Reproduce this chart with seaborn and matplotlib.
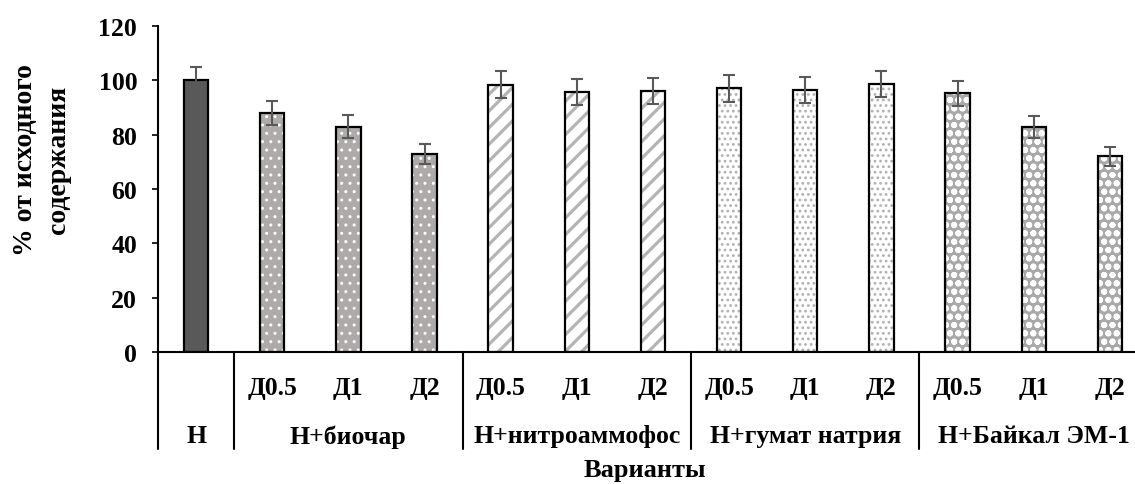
import matplotlib
matplotlib.use("Agg")
import matplotlib.pyplot as plt
from matplotlib.patches import Rectangle
import seaborn as sns
import pandas as pd

# ---- data ----
groups = ["Н", "Н+биочар", "Н+нитроаммофос", "Н+гумат натрия", "Н+Байкал ЭМ-1"]
doses = ["Д0.5", "Д1", "Д2"]
control_value = [100.0]
control_err = [5.0]
biochar = [88.0, 83.0, 73.0]
biochar_err = [4.4, 4.1, 3.7]
nitroammofos = [98.4, 95.8, 96.2]
nitroammofos_err = [4.9, 4.8, 4.8]
gumat = [97.1, 96.5, 98.7]
gumat_err = [4.9, 4.9, 4.8]
baikal = [95.2, 82.7, 72.0]
baikal_err = [4.6, 4.1, 3.5]

values = control_value + biochar + nitroammofos + gumat + baikal
errors = control_err + biochar_err + nitroammofos_err + gumat_err + baikal_err
group_of_bar = [groups[0]] + [g for g in groups[1:] for _ in doses]
dose_of_bar = [""] + doses * 4
keys = [f"{g} {d}".strip() for g, d in zip(group_of_bar, dose_of_bar)]

df = pd.DataFrame({"key": keys, "value": values, "err": errors, "group": group_of_bar})

# fill colour, hatch pattern, hatch colour, hatch width per group
styles = {
    "Н": ("#595959", "", "#595959", 1.0),
    "Н+биочар": ("#AEAAAA", "..", "#FFFFFF", 1.0),
    "Н+нитроаммофос": ("#FFFFFF", "//", "#B4B4B4", 2.3),
    "Н+гумат натрия": ("#FFFFFF", "...", "#B0B0B0", 1.2),
    "Н+Байкал ЭМ-1": ("#A9A9A9", "oo", "#FFFFFF", 2.0),
}

FS = 18.5

sns.set_theme(style="white")
plt.rcParams["font.family"] = ["Liberation Serif", "DejaVu Serif"]
plt.rcParams["font.weight"] = "bold"
plt.rcParams["hatch.linewidth"] = 1.5

fig = plt.figure(figsize=(11.35, 4.85), dpi=100)
ax = fig.add_axes([158 / 1135, 0.2722, 977 / 1135, 0.6721])

sns.barplot(data=df, x="key", y="value", order=keys, width=0.32,
            color="#595959", errorbar=None, ax=ax, zorder=2)

bars = [p for p in ax.patches]
for patch, g in zip(bars, group_of_bar):
    face, hatch, hcol, hlw = styles[g]
    patch.set_facecolor(face)
    patch.set_edgecolor(hcol)
    patch.set_linewidth(0)
    if hatch:
        patch.set_hatch(hatch)
        if hasattr(patch, "set_hatch_linewidth"):
            patch.set_hatch_linewidth(hlw)
    # black outline on top of the hatched fill
    ax.add_patch(Rectangle((patch.get_x(), patch.get_y()), patch.get_width(),
                           patch.get_height(), fill=False, edgecolor="black",
                           linewidth=1.6, zorder=3))

centers = [p.get_x() + p.get_width() / 2 for p in bars]
ax.errorbar(centers, df["value"], yerr=df["err"], fmt="none", ecolor="#595959",
            elinewidth=1.5, capsize=4.5, capthick=1.5, zorder=4)

ax.set_ylim(0, 120)
ax.set_xlim(-0.5, len(keys) - 1 + 0.33)
ax.set_yticks(range(0, 121, 20))
ax.tick_params(axis="y", which="major", direction="out", length=4, width=1.2,
               left=True, labelsize=FS, pad=11, colors="black")
for lbl in ax.get_yticklabels():
    lbl.set_fontweight("bold")
ax.set_xticks([])
ax.set_xlabel("")
ax.set_ylabel("")
for side in ["top", "right"]:
    ax.spines[side].set_visible(False)
for side in ["left", "bottom"]:
    ax.spines[side].set_color("black")
    ax.spines[side].set_linewidth(1.5)

# two-level category axis
trans = ax.get_xaxis_transform()
fig_h = 485.0
ax_bottom_px = 353.0
ax_h_px = 326.0


def ypos(px):
    return (ax_bottom_px - px) / ax_h_px


line_bottom = ypos(450)
boundaries = [-0.5, 0.5, 3.5, 6.5, 9.5]
for b in boundaries:
    ax.plot([b, b], [0, line_bottom], transform=trans, color="black",
            lw=1.5, clip_on=False, zorder=5)

for c, d in zip(centers, dose_of_bar):
    if d:
        ax.text(c, ypos(389), d, transform=trans, ha="center", va="center",
                fontsize=FS, fontweight="bold", color="black")

group_centers = [centers[0]] + [centers[1 + 3 * i + 1] for i in range(4)]
for c, g in zip(group_centers, groups):
    ax.text(c, ypos(437), g, transform=trans, ha="center", va="center",
            fontsize=FS, fontweight="bold", color="black")

fig.text(645 / 1135, 1 - 471 / fig_h, "Варианты", ha="center", va="center",
         fontsize=19, fontweight="bold", color="black")
fig.text(42 / 1135, 1 - 160 / fig_h, "% от исходного\nсодержания", rotation=90,
         ha="center", va="center", fontsize=20, fontweight="bold",
         color="black", linespacing=1.45, multialignment="center")

fig.savefig("out.png", dpi=100)
